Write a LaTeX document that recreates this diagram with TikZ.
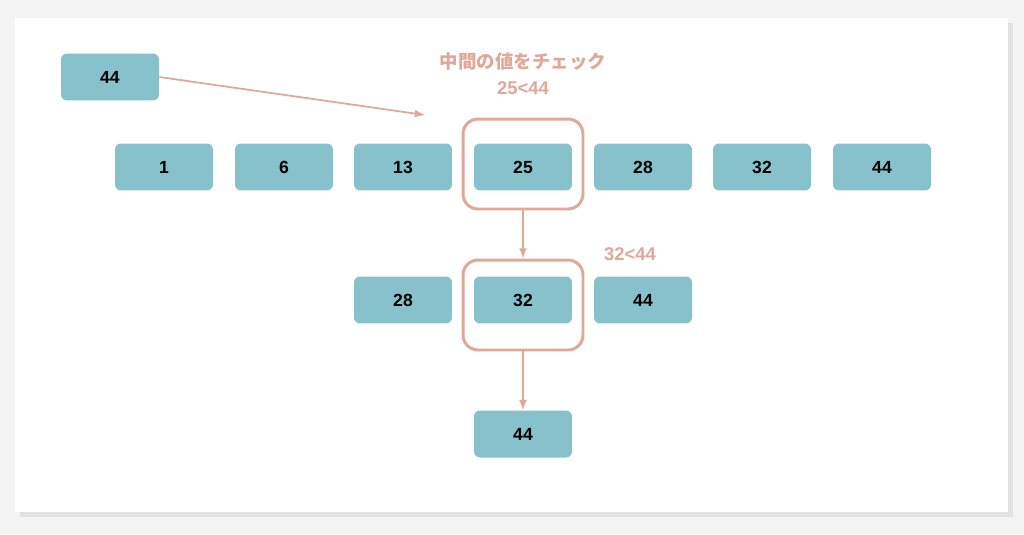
\documentclass[tikz,border=0pt]{standalone}
\usepackage{fontspec}
\setmainfont{Liberation Sans}
\newfontfamily\cjk{Noto Sans CJK JP}
\usetikzlibrary{positioning,shadows}
\definecolor{boxTeal}{HTML}{86C1CC}
\definecolor{markSalmon}{HTML}{E0A899}
\definecolor{pageGray}{HTML}{F4F4F4}
\tikzset{
	numBox/.style={fill=boxTeal, rounded corners=0.12cm, minimum width=1.96cm,
	minimum height=0.94cm, text centered, font=\fontsize{10}{12}\selectfont\bfseries},
	checkFrame/.style={draw=markSalmon, line width=1.7pt, rounded corners=0.3cm,
	minimum width=2.4cm, minimum height=1.8cm},
	markLabel/.style={text=markSalmon, font=\fontsize{10.5}{12}\selectfont\bfseries},
	markArrow/.style={draw=markSalmon, line width=1pt, -latex}
}
\begin{document}
\begin{tikzpicture}[x=0.02cm, y=-0.02cm]
			
			%Page background and card
			\useasboundingbox[fill=pageGray] (0,0) rectangle (1024,534);
			\fill[white, drop shadow={opacity=0.15}] (15,18) rectangle (1008,512);
			
			%Value to search for
			\node (target) at (110,77) [numBox]{44};
			
			%Sorted list
			\node (listA) at (164,167) [numBox]{1};
			\node (listB) at (284,167) [numBox]{6};
			\node (listC) at (403,167) [numBox]{13};
			\node (listD) at (523,167) [numBox]{25};
			\node (listE) at (643,167) [numBox]{28};
			\node (listF) at (762,167) [numBox]{32};
			\node (listG) at (882,167) [numBox]{44};
			
			%Right half
			\node (halfA) at (403,300) [numBox]{28};
			\node (halfB) at (523,300) [numBox]{32};
			\node (halfC) at (643,300) [numBox]{44};
			
			%Found value
			\node (found) at (523,434) [numBox]{44};
			
			%Check frames
			\node (checkOne) at (523,164) [checkFrame]{};
			\node (checkTwo) at (523,305) [checkFrame]{};
			
			%Labels
			\node (checkText) at (523,62) [markLabel]{\cjk 中間の値をチェック};
			\node (checkOneText) at (523,88) [markLabel]{25<44};
			\node (checkTwoText) at (630,254) [markLabel]{32<44};
			
			%Links among blocks
			\coordinate (targetEnd) at (425,115);
			\draw[markArrow] (target.east) -- (targetEnd);
			\draw[markArrow] (checkOne.south) -- (checkTwo.north);
			\draw[markArrow] (checkTwo.south) -- (found.north);
			
\end{tikzpicture}
\end{document}
